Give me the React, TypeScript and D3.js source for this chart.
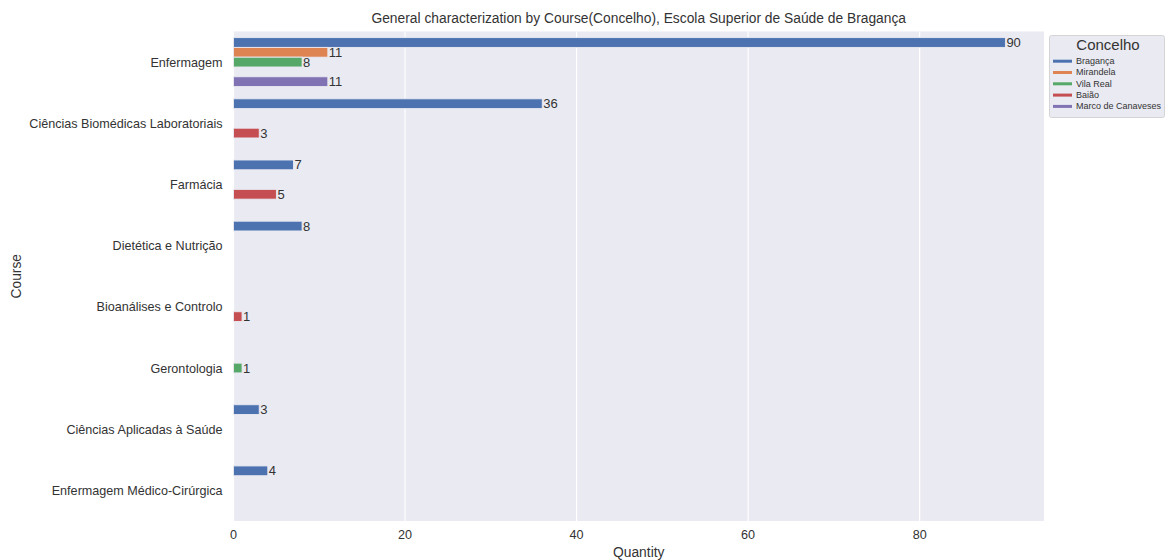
import React from "react";
import * as d3 from "d3";

const courses = [
  "Enfermagem",
  "Ciências Biomédicas Laboratoriais",
  "Farmácia",
  "Dietética e Nutrição",
  "Bioanálises e Controlo",
  "Gerontologia",
  "Ciências Aplicadas à Saúde",
  "Enfermagem Médico-Cirúrgica",
];
const concelhos = ["Bragança", "Mirandela", "Vila Real", "Baião", "Marco de Canaveses"];
const colors = ["#4c72b0", "#dd8452", "#55a868", "#c44e52", "#8172b3"];

// values per concelho, aligned with courses (null = no bar)
const braganca = [90, 36, 7, 8, null, null, 3, 4];
const mirandela = [11, null, null, null, null, null, null, null];
const vilaReal = [8, null, null, null, null, 1, null, null];
const baiao = [null, 3, 5, null, 1, null, null, null];
const marco = [11, null, null, null, null, null, null, null];
const seriesValues = [braganca, mirandela, vilaReal, baiao, marco];

const xTicks = [0, 20, 40, 60, 80];

const W = 1168, H = 560;
const left = 233.5, right = 1044, top = 31.5, bottom = 521;
const FONT = "'Liberation Sans', Arial, sans-serif";
const TXT = "#333333";

export default function App() {
  const x = d3.scaleLinear().domain([0, 94.5]).range([left, right]);
  const y = d3.scaleBand().domain(courses).range([top, bottom]).paddingInner(0).paddingOuter(0);
  const inner = d3
    .scaleBand()
    .domain(concelhos)
    .range([y.bandwidth() * 0.1, y.bandwidth() * 0.9]);

  return (
    <svg width={W} height={H} style={{ position: "absolute", left: 0, top: 0, background: "#fff" }} fontFamily={FONT}>
      <rect x={left} y={top} width={right - left} height={bottom - top} fill="#eaeaf2" />
      {xTicks.map((t) => (
        <line key={t} x1={x(t)} x2={x(t)} y1={top} y2={bottom} stroke="#fff" strokeWidth={1.2} />
      ))}
      {seriesValues.map((vals, si) =>
        vals.map((v, ci) => {
          if (v == null) return null;
          const yy = (y(courses[ci]) as number) + (inner(concelhos[si]) as number);
          const h = inner.bandwidth();
          return (
            <g key={`${si}-${ci}`}>
              <rect
                x={x(0)}
                y={yy}
                width={x(v) - x(0)}
                height={h}
                fill={colors[si]}
                stroke="#eaeaf2"
                strokeWidth={0.9}
              />
              <text x={x(v) + 1} y={yy + h / 2 + 4.5} fontSize={13} fill={TXT}>
                {v}
              </text>
            </g>
          );
        })
      )}
      {xTicks.map((t) => (
        <text key={t} x={x(t)} y={539} textAnchor="middle" fontSize={12.6} fill={TXT}>
          {t}
        </text>
      ))}
      {courses.map((c) => (
        <text
          key={c}
          x={left - 11}
          y={(y(c) as number) + y.bandwidth() / 2 + 4.5}
          textAnchor="end"
          fontSize={12.6}
          fill={TXT}
        >
          {c}
        </text>
      ))}
      <text x={(left + right) / 2} y={557} textAnchor="middle" fontSize={13.8} fill={TXT}>
        Quantity
      </text>
      <text
        transform={`translate(21,${(top + bottom) / 2}) rotate(-90)`}
        textAnchor="middle"
        fontSize={13.8}
        fill={TXT}
      >
        Course
      </text>
      <text x={(left + right) / 2} y={23} textAnchor="middle" fontSize={13.8} fill={TXT}>
        General characterization by Course(Concelho), Escola Superior de Saúde de Bragança
      </text>
      <g>
        <rect x={1049.5} y={35.5} width={115} height={82} fill="#eaeaf2" stroke="#cccccc" strokeWidth={0.8} rx={2} />
        <text x={1108} y={50} textAnchor="middle" fontSize={15} fill={TXT}>
          Concelho
        </text>
        {concelhos.map((c, i) => (
          <g key={c}>
            <rect x={1053} y={61 + i * 11.3 - 1.3} width={19} height={3} fill={colors[i]} />
            <text x={1076} y={61 + i * 11.3 + 3} fontSize={9} fill={TXT}>
              {c}
            </text>
          </g>
        ))}
      </g>
    </svg>
  );
}
